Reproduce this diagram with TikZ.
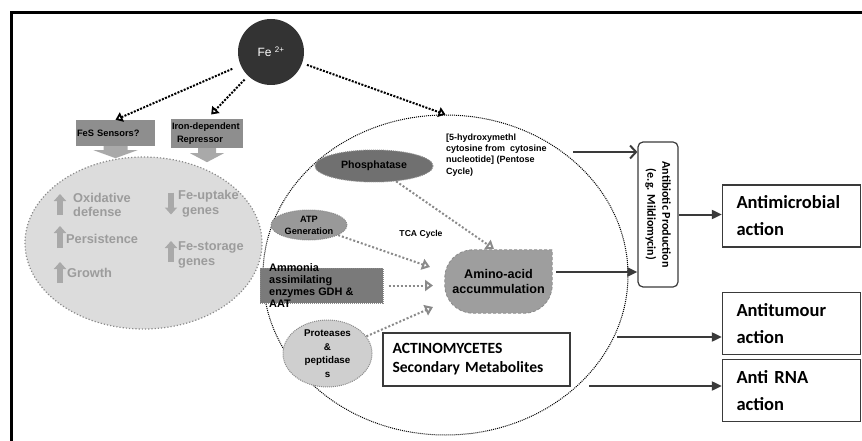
\documentclass[tikz,border=0pt]{standalone}
\usepackage{fontspec}
\setmainfont{Liberation Sans}
\newfontfamily\carlito{Carlito}
\usetikzlibrary{arrows.meta, positioning, calc, shapes.geometric}
\definecolor{FeDark}{HTML}{333333}
\definecolor{BoxGray}{HTML}{8E8E8E}
\definecolor{ArrGray}{HTML}{A9A9A9}
\definecolor{PaleGray}{HTML}{DCDCDC}
\definecolor{TxtGray}{HTML}{9C9C9C}
\definecolor{DotGray}{HTML}{8A8A8A}
\definecolor{LineDark}{HTML}{3A3A3A}

\begin{document}
\begin{tikzpicture}[
        x=1pt, y=-1pt, >=Stealth, font=\bfseries,
        ion/.style={circle, fill=FeDark, minimum size=66pt, inner sep=0pt,
                    text=white, font=\fontsize{12}{14}\selectfont},
        sensor/.style={fill=BoxGray, align=left, inner sep=1pt,
                       font=\fontsize{9.3}{12.5}\selectfont\bfseries},
        blockarr/.style={fill=ArrGray},
        pale/.style={ellipse, fill=PaleGray, draw=DotGray, dotted, line width=1.2pt, inner sep=0pt},
        graytxt/.style={text=TxtGray, align=left, anchor=west, inner sep=0pt,
                        font=\fontsize{12.8}{14.5}\selectfont\bfseries},
        updown/.style={-{Triangle[length=7pt, width=12pt]}, ArrGray, line width=6pt},
        cell/.style={ellipse, fill=white, draw=black, densely dotted, line width=1pt, inner sep=0pt},
        enz/.style={ellipse, draw=DotGray, densely dotted, line width=1pt, inner sep=0pt, align=center},
        small/.style={align=left, inner sep=0pt, font=\fontsize{9}{11.3}\selectfont\bfseries},
        fedot/.style={-{Triangle[open, length=7pt, width=10pt]}, black, line width=2pt,
                      dash pattern=on 2pt off 1.4pt, shorten <=5pt},
        graydot/.style={-{Triangle[open, length=8pt, width=11pt]}, DotGray, line width=2pt,
                        dash pattern=on 2pt off 2pt},
        link/.style={-{Triangle[length=10pt, width=9pt]}, LineDark, line width=2pt},
        barb/.style={-{Straight Barb[length=6pt, width=13pt]}, LineDark, line width=2pt},
        effect/.style={draw=LineDark, line width=1.3pt, align=left, inner xsep=14pt,
                       minimum width=138pt, minimum height=62pt, text width=110pt,
                       font=\carlito\bfseries\fontsize{18.5}{27}\selectfont},
      ]
        \useasboundingbox (0,0) rectangle (862,441);
        \draw[line width=3pt] (11,441) -- (11,13) -- (862,13);

        \node[ion] (fe) at (271,52) {Fe \textsuperscript{2+}};
        \node[sensor, minimum width=79pt, minimum height=26pt, text width=77pt] (fes) at (115.5,133) {FeS Sensors?};
        \node[sensor, minimum width=72pt, minimum height=29pt, text width=70pt] (rep) at (207,133.5) {Iron-dependent\\\hspace*{5pt}Repressor};
        \fill[blockarr] ($(fes.south)+(-12,0)$) -- ++(0,4) -- ++(-10,0) -- ($(fes.south)+(0,12)$)
                        -- ++(22,-8) -- ++(-10,0) -- ++(0,-4) -- cycle;
        \fill[blockarr] ($(rep.south)+(-9,0)$) -- ++(0,5) -- ++(-8,0) -- ($(rep.south)+(0,14)$)
                        -- ++(17,-9) -- ++(-8,0) -- ++(0,-5) -- cycle;

        \node[cell, minimum width=365pt, minimum height=320pt] (cell) at (445.5,275) {};
        \node[pale, minimum width=237pt, minimum height=172pt] (pale) at (143.5,243) {};
        \node[graytxt] (oxi)     at (73,205)    {Oxidative\\defense};
        \node[graytxt] (pers)    at (66,239)    {Persistence};
        \node[graytxt] (growth)  at (67,273)    {Growth};
        \node[graytxt] (uptake)  at (178,203.5) {Fe-uptake\\\hspace*{4pt}genes};
        \node[graytxt] (storage) at (178,255)   {Fe-storage\\genes};
        \draw[updown] ($(oxi.west)+(-13,10)$) -- ++(0,-21);
        \draw[updown] ($(pers.west)+(-6,9)$) -- ++(0,-22);
        \draw[updown] ($(growth.west)+(-7,10)$) -- ++(0,-21);
        \draw[updown] ($(uptake.west)+(-7,-11)$) -- ++(0,22);
        \draw[updown] ($(storage.west)+(-7,7)$) -- ++(0,-21);

        \draw[fedot, shorten <=9pt] (fe) -- (fes.north);
        \draw[fedot, shorten >=6pt] (fe) -- (rep.north);
        \draw[fedot] (fe) -- (cell.north);

        \node[enz, fill=black!56, minimum width=118pt, minimum height=32pt,
              font=\fontsize{10.6}{12}\selectfont\bfseries] (phos) at (374,166) {Phosphatase};
        \node[small, anchor=west] (hydro) at (446,155) {[5-hydroxymethl\\cytosine from\ \ cytosine\\nucleotide] (Pentose\\Cycle)};
        \node[enz, fill=black!40, minimum width=76pt, minimum height=30pt,
              font=\fontsize{9.2}{12}\selectfont\bfseries] (atp) at (309,225) {ATP\\Generation};
        \node[small, font=\fontsize{8.6}{11}\selectfont\bfseries] (tca) at (421,234) {TCA Cycle};
        \node[fill=black!52, draw=DotGray, densely dotted, line width=1pt,
              minimum width=123pt, minimum height=35pt] (amm) at (321.5,285.5) {};
        \node[align=left, anchor=west, inner sep=0pt, font=\fontsize{10.9}{12.3}\selectfont\bfseries]
              (ammtxt) at (269,285.5) {Ammonia\\assimilating\\enzymes GDH \&\\AAT};
        \node[minimum width=107pt, minimum height=63pt, inner sep=0pt] (amino) at (498.5,281.5) {};
        \filldraw[fill=black!38, draw=DotGray, densely dashed, line width=0.8pt]
              (amino.north east) [rounded corners=28pt] -- (amino.north west) -- (amino.south west)
              -- (amino.south east) [sharp corners] -- cycle;
        \node[align=center, inner sep=0pt, font=\fontsize{12.6}{15}\selectfont\bfseries]
              (aminotxt) at (amino) {Amino-acid\\accummulation};
        \node[enz, fill=black!19, minimum width=89pt, minimum height=57pt,
              font=\fontsize{9.8}{13.5}\selectfont\bfseries] (prot) at (327.5,353.5) {Proteases\\\&\\peptidase\\s};
        \node[draw=LineDark, line width=1.2pt, minimum width=187pt, minimum height=53pt,
              align=left, text width=168pt, font=\carlito\bfseries\fontsize{15.6}{19}\selectfont]
              (actino) at (476.5,359.5) {ACTINOMYCETES\\Secondary Metabolites};

        \coordinate (tipP) at (494,249);
        \coordinate (tipA) at (430,267);
        \coordinate (tipM) at (433,285.5);
        \coordinate (tipR) at (433,307);
        \draw[graydot] (phos) -- (tipP);
        \draw[graydot] (atp) -- (tipA);
        \draw[graydot, shorten <=5pt] (amm.east) -- (tipM);
        \draw[graydot] (prot) -- (tipR);

        \node[draw=LineDark, line width=1.2pt, rounded corners=5pt, rotate=-90,
              minimum width=145pt, minimum height=40pt, align=center, inner sep=0pt,
              font=\carlito\bfseries\fontsize{12}{15}\selectfont]
              (anti) at (658,214.5) {Antibiotic Production\\(e.g. Mildiomycin)};
        \node[effect] (micro)  at (791.5,216)   {Antimicrobial\\action};
        \node[effect] (tumour) at (791.5,323.5) {Antitumour\\action};
        \node[effect] (rna)    at (791.5,390.5) {Anti RNA\\action};

        \coordinate (hydout)  at (573,152);
        \coordinate (amiout)  at (556,272);
        \coordinate (cellout) at (617,337);
        \coordinate (actout)  at (589,386);
        \draw[barb] (hydout) -- (hydout -| anti.south);
        \draw[link] (amiout) -- (amiout -| anti.south);
        \draw[link] (anti.north) -- (anti.north -| micro.west);
        \draw[link] (cellout) -- (cellout -| tumour.west);
        \draw[link] (actout) -- (actout -| rna.west);
      \end{tikzpicture}
\end{document}
